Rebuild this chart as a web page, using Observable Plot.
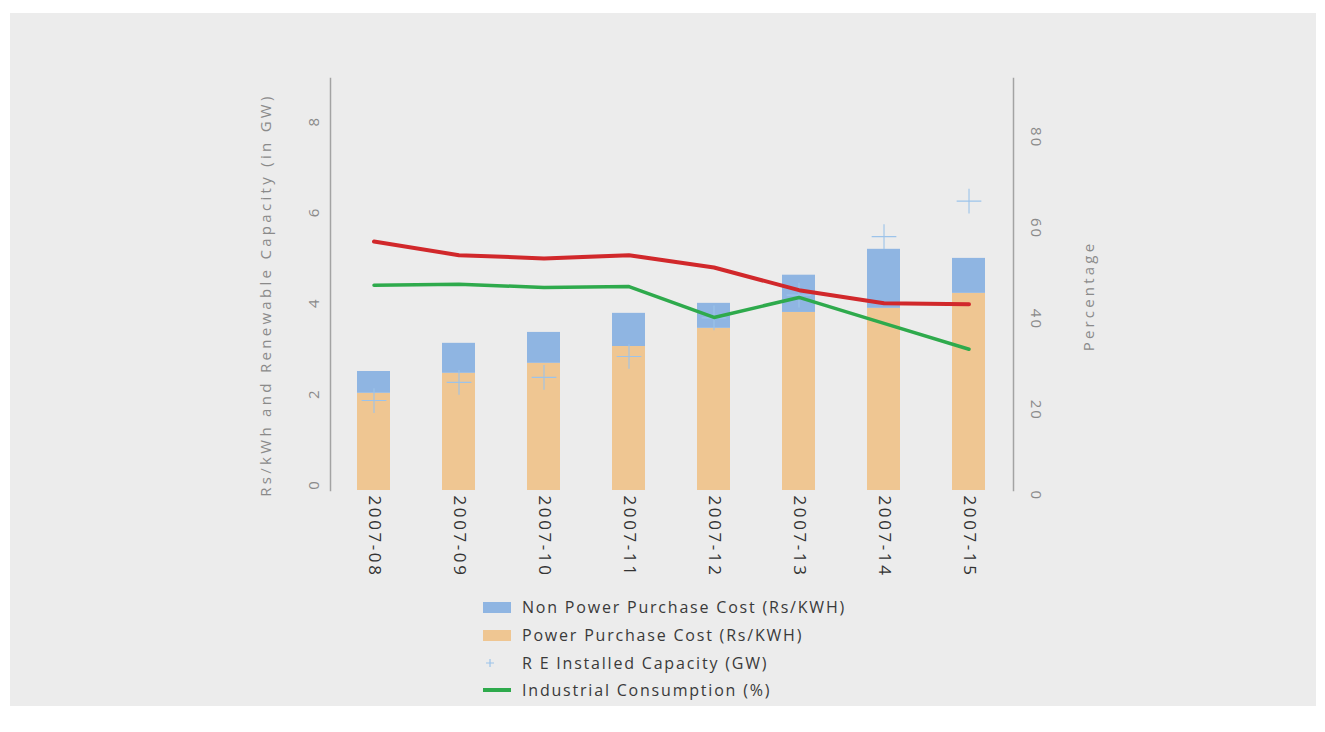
<!DOCTYPE html>
<html><head><meta charset="utf-8">
<script src="https://cdn.jsdelivr.net/npm/d3@7"></script>
<script src="https://cdn.jsdelivr.net/npm/@observablehq/plot@0.6"></script>
<style>
body{margin:0;background:#fff;width:1325px;height:732px;position:relative;overflow:hidden;font-family:"Open Sans",sans-serif}
#panel{position:absolute;left:10px;top:13px;width:1306px;height:693px;background:#ececec}
#chart{position:absolute;left:0;top:0}
.title{position:absolute;white-space:nowrap;color:#8a8a8a;font-size:15px;letter-spacing:3.3px;transform:translate(-50%,-50%) rotate(-90deg)}
.lrow{position:absolute;left:483px;height:22px;display:flex;align-items:center;font-size:16px;letter-spacing:1.8px;color:#3a3a3a;white-space:nowrap}
.sw{width:28px;display:flex;align-items:center;justify-content:center;margin-right:11px}
</style></head>
<body>
<div id="panel"></div>
<div id="chart"></div>
<div class="title" style="left:265px;top:295px">Rs/kWh and Renewable Capacity (in GW)</div>
<div class="title" style="left:1088px;top:296px;letter-spacing:3.2px">Percentage</div>
<div id="legend"></div>
<script>
const years = ["2007-08","2007-09","2007-10","2007-11","2007-12","2007-13","2007-14","2007-15"];
const powerPurchaseCost = [2.14, 2.58, 2.80, 3.17, 3.57, 3.92, 4.01, 4.34];
const nonPowerPurchaseCost = [0.48, 0.66, 0.68, 0.73, 0.55, 0.82, 1.30, 0.77];
const reInstalledCapacity = [1.98, 2.38, 2.49, 2.95, 3.8, 4.3, 5.59, 6.37];
const industrialConsumption = [45.2, 45.4, 44.7, 44.9, 38.1, 42.5, 36.8, 31.1];
const redSeries = [54.8, 51.8, 51.1, 51.8, 49.1, 44.1, 41.2, 41.0];
const leftTicks = [0, 2, 4, 6, 8];
const legendLabels = ["Non Power Purchase Cost (Rs/KWH)", "Power Purchase Cost (Rs/KWH)", "R E Installed Capacity (GW)", "Industrial Consumption (%)"];

const C = {orange:"#efc692", blue:"#8fb5e2", plus:"#9cc3ea", red:"#d1282b", green:"#2eaa4c", axis:"#a3a3a3", tick:"#8a8a8a"};

const rows = years.map((year, i) => ({year, ppc: powerPurchaseCost[i], nppc: nonPowerPurchaseCost[i], re: reInstalledCapacity[i], ind: industrialConsumption[i], red: redSeries[i]}));
const H = 600;
const plot = Plot.plot({
  width: 1325, height: H, marginLeft: 330, marginRight: 312, marginTop: 78, marginBottom: H - 490,
  style: {background: "transparent", overflow: "visible", fontFamily: "Open Sans"},
  x: {type: "band", domain: years, paddingInner: 0.61, paddingOuter: 0.305},
  y: {domain: [0, 9.07]},
  marks: [
    Plot.barY(rows, {x: "year", y1: 0, y2: "ppc", fill: C.orange}),
    Plot.barY(rows, {x: "year", y1: "ppc", y2: d => d.ppc + d.nppc, fill: C.blue}),
    Plot.dot(rows, {x: "year", y: "re", symbol: "plus", r: 8, stroke: C.plus, strokeWidth: 1.1}),
    Plot.line(rows, {x: "year", y: d => d.red / 10, stroke: C.red, strokeWidth: 4}),
    Plot.line(rows, {x: "year", y: d => d.ind / 10, stroke: C.green, strokeWidth: 3.5}),
    Plot.frame({anchor: "left", stroke: C.axis, strokeWidth: 1.5}),
    Plot.frame({anchor: "right", stroke: C.axis, strokeWidth: 1.5}),
    Plot.axisY({anchor: "left", ticks: leftTicks, tickSize: 0, tickRotate: -90, textAnchor: "middle", lineAnchor: "middle", tickPadding: 16, dy: -6, fontSize: 15, fill: C.tick, label: null}),
    Plot.axisY({anchor: "right", ticks: leftTicks, tickFormat: d => String(d * 10), tickSize: 0, tickRotate: 90, textAnchor: "start", lineAnchor: "middle", tickPadding: 22, fontSize: 15, fill: C.tick, label: null}),
    Plot.axisX({anchor: "bottom", tickSize: 0, tickRotate: 90, textAnchor: "start", lineAnchor: "middle", tickPadding: 5, fontSize: 17, fill: "#333", label: null})
  ]
});
document.getElementById("chart").appendChild(plot);
d3.select(plot).selectAll("g[aria-label='x-axis tick label'] text").style("letter-spacing", "2.6px");
d3.select(plot).selectAll("g[aria-label='y-axis tick label'] text").style("letter-spacing", "2px");

const swatches = [
  `<div style="width:28px;height:11px;background:${C.blue}"></div>`,
  `<div style="width:28px;height:11px;background:${C.orange}"></div>`,
  `<svg width="28" height="10"><path d="M3,5H11M7,1V9" stroke="${C.plus}" stroke-width="1.2" fill="none"/></svg>`,
  `<div style="width:28px;height:4px;background:${C.green}"></div>`
];
const rowCenters = [607, 635, 663, 690];
const lg = document.getElementById("legend");
legendLabels.forEach((t, i) => {
  const r = document.createElement("div");
  r.className = "lrow";
  r.style.top = (rowCenters[i] - 11) + "px";
  r.innerHTML = `<div class="sw">${swatches[i]}</div><span>${t}</span>`;
  lg.appendChild(r);
});
</script>
</body></html>
